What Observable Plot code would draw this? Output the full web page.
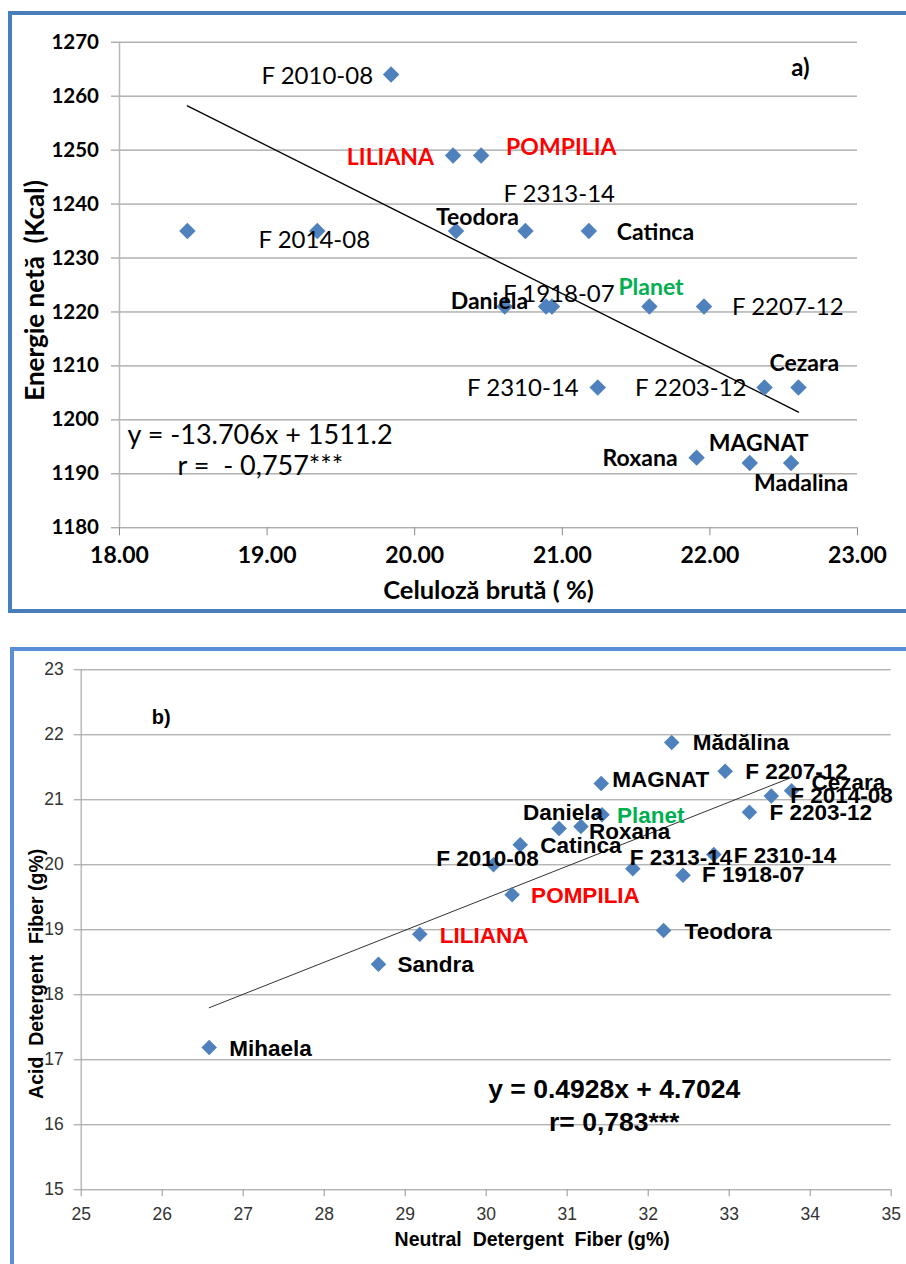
<!DOCTYPE html>
<html><head><meta charset="utf-8">
<script src="https://cdn.jsdelivr.net/npm/d3@7"></script>
<script src="https://cdn.jsdelivr.net/npm/@observablehq/plot@0.6"></script>
<style>
body{margin:0;background:#fff;}
#page{position:relative;width:906px;height:1264px;overflow:hidden;background:#fff;}
.frame{position:absolute;box-sizing:border-box;}
.panel{position:absolute;left:0;}
svg text{white-space:pre;}
</style></head><body>
<div id="page">
  <div class="frame" style="left:8px;top:11px;width:920px;height:602px;border:4px solid #4a7ebb"></div>
  <div class="frame" style="left:10px;top:647px;width:920px;height:660px;border:4px solid #5a8ed6"></div>
  <div id="a" class="panel" style="top:0"></div>
  <div id="b" class="panel" style="top:620px"></div>
</div>
<script>
// ---------- Panel a data ----------
const aNames = ["F 2010-08","","F 2014-08","LILIANA","POMPILIA","Teodora","F 2313-14","Catinca","Daniela","F 1918-07","","Planet","F 2207-12","F 2310-14","F 2203-12","Cezara","Roxana","MAGNAT","Madalina"];
const aCeluloza = [19.84,18.46,19.34,20.26,20.45,20.28,20.75,21.18,20.61,20.89,20.93,21.59,21.96,21.24,22.37,22.60,21.91,22.27,22.55];
const aEnergie = [1264,1235,1235,1249,1249,1235,1235,1235,1221,1221,1221,1221,1221,1206,1206,1206,1193,1192,1192];
const aTicksX = [18,19,20,21,22,23];
const aTicksY = [1180,1190,1200,1210,1220,1230,1240,1250,1260,1270];
const aSlope = -13.706, aIntercept = 1511.2;
const aEquation = "y = -13.706x + 1511.2";
const aR = "r =  - 0,757***";
const aTitleX = "Celuloză brută ( %)";
const aTitleY = "Energie netă  (Kcal)";
const aTag = "a)";

// ---------- Panel b data ----------
const bNames = ["Mihaela","Sandra","LILIANA","F 2010-08","POMPILIA","Catinca","Daniela","Roxana","Planet","MAGNAT","F 2313-14","Teodora","Mădălina","F 1918-07","F 2310-14","F 2207-12","F 2203-12","F 2014-08","Cezara"];
const bNDF = [26.58,28.67,29.18,30.09,30.32,30.42,30.90,31.17,31.43,31.42,31.81,32.19,32.29,32.43,32.81,32.95,33.25,33.52,33.77];
const bADF = [17.19,18.47,18.93,20.00,19.54,20.31,20.56,20.59,20.77,21.25,19.94,18.99,21.88,19.84,20.16,21.44,20.81,21.06,21.14];
const bTicksX = [25,26,27,28,29,30,31,32,33,34,35];
const bTicksY = [15,16,17,18,19,20,21,22,23];
const bSlope = 0.4928, bIntercept = 4.7024;
const bEquation = "y = 0.4928x + 4.7024";
const bR = "r= 0,783***";
const bTitleX = "Neutral  Detergent  Fiber (g%)";
const bTitleY = "Acid  Detergent  Fiber (g%)";
const bTag = "b)";

// ---------- label placement (styling, not data) ----------
const aPlace = [
  ["end",-18,2],[null],["middle",-3,9],["end",-19,2],["start",25,-8],["start",-20,-13],["start",-22,-37],
  ["start",28,2],["start",-54,-5],["start",-43,-12],[null],["start",-31,-19],["start",28,1],
  ["end",-19,1],["end",-18,1],["start",-29,-24],["end",-19,1],["start",-41,-19],["start",-37,21]
];
const bPlace = [
  ["start",20,1],["start",19,1],["start",20,1],["middle",-6,-6],["start",19,1],["start",20,1],
  ["start",-36,-16],["start",8,5],["start",15,1],["start",11,-4],["start",-3,-11],["start",21,1],
  ["start",21,0],["start",19,0],["start",20,1],["start",20,1],["start",20,1],["start",19,0],["start",20,-8]
];
const colorOf = n => (n === "LILIANA" || n === "POMPILIA") ? "#ff0000" : (n === "Planet" ? "#00b050" : "#000");
const isCode = n => /^F \d/.test(n);

const FA = "Lato, 'Liberation Sans', sans-serif";
const FB = "'Liberation Sans', Arial, sans-serif";
const blue = "#4f81bd";
const note = (txt, o) => Plot.text([txt], {textAnchor: "middle", lineAnchor: "middle", ...o});

// ---------- Panel a ----------
const aIdx = d3.range(aNames.length);
const aExt = d3.extent(aCeluloza);
const aLabels = aIdx.filter(i => aNames[i] !== "").map(i => Plot.text([i], {
  x: j => aCeluloza[j], y: j => aEnergie[j], text: j => aNames[j],
  textAnchor: aPlace[i][0], dx: aPlace[i][1], dy: aPlace[i][2],
  fill: colorOf(aNames[i]), fontSize: isCode(aNames[i]) ? 24 : 23, fontFamily: FA,
  fontWeight: isCode(aNames[i]) ? "normal" : "bold"
}));
const plotA = Plot.plot({
  width: 906, height: 620,
  marginLeft: 119, marginRight: 49, marginTop: 41.7, marginBottom: 92.7,
  x: {domain: [18, 23]},
  y: {domain: [1180, 1270]},
  style: {background: "transparent", fontFamily: FA, overflow: "visible"},
  marks: [
    Plot.gridY(aTicksY, {stroke: "#8a8a8a", strokeOpacity: 1, strokeWidth: 1}),
    Plot.ruleX([18], {stroke: "#b8b8b8", strokeWidth: 1.5}),
    Plot.axisY(aTicksY, {tickSize: 8, tickPadding: 12.5, stroke: "#8a8a8a", fill: "#000",
      fontSize: 20.5, fontWeight: "bold", fontFamily: FA, label: null, tickFormat: d => String(d)}),
    Plot.axisX(aTicksX, {tickSize: 8, tickPadding: 11, stroke: "#8a8a8a", fill: "#000",
      fontSize: 23, fontWeight: "bold", fontFamily: FA, label: null, tickFormat: d => d.toFixed(2)}),
    Plot.line(aExt, {x: d => d, y: d => aSlope * d + aIntercept, stroke: "#000", strokeWidth: 1.4}),
    Plot.dot(aIdx, {x: i => aCeluloza[i], y: i => aEnergie[i], symbol: "diamond2", r: 7.4, fill: blue, stroke: "none"}),
    ...aLabels,
    note(aTag, {frameAnchor: "top-right", dx: -57, dy: 26, fontSize: 24, fontWeight: "bold", fontFamily: FA}),
    note(aEquation, {frameAnchor: "bottom-left", textAnchor: "start", dx: 8, dy: -92, fontSize: 27, fontFamily: FA}),
    note(aR, {frameAnchor: "bottom-left", textAnchor: "start", dx: 58, dy: -61.5, fontSize: 27, fontFamily: FA}),
    note(aTitleX, {frameAnchor: "bottom", dy: 63, fontSize: 25.5, fontWeight: "bold", fontFamily: FA}),
    note(aTitleY, {frameAnchor: "left", rotate: -90, dx: -84, dy: 5.5, fontSize: 26, fontWeight: "bold", fontFamily: FA})
  ]
});
document.getElementById("a").appendChild(plotA);

// ---------- Panel b ----------
const bIdx = d3.range(bNames.length);
const bExt = d3.extent(bNDF);
const bLabels = bIdx.map(i => Plot.text([i], {
  x: j => bNDF[j], y: j => bADF[j], text: j => bNames[j],
  textAnchor: bPlace[i][0], dx: bPlace[i][1], dy: bPlace[i][2],
  fill: colorOf(bNames[i]), fontSize: 22.5, fontFamily: FB, fontWeight: "bold"
}));
const plotB = Plot.plot({
  width: 906, height: 644,
  marginLeft: 80.7, marginRight: 15.3, marginTop: 49.3, marginBottom: 74.7,
  x: {domain: [25, 35]},
  y: {domain: [15, 23]},
  style: {background: "transparent", fontFamily: FB, overflow: "visible"},
  marks: [
    Plot.gridY(bTicksY, {stroke: "#969696", strokeOpacity: 1, strokeWidth: 1}),
    Plot.ruleX([25], {stroke: "#a8a8a8", strokeWidth: 1.2}),
    Plot.axisY(bTicksY, {tickSize: 7, tickPadding: 10.5, stroke: "#969696", fill: "#333",
      fontSize: 17.5, fontFamily: FB, label: null, tickFormat: d => String(d)}),
    Plot.axisX(bTicksX, {tickSize: 7, tickPadding: 10.5, stroke: "#969696", fill: "#333",
      fontSize: 17.5, fontFamily: FB, label: null, tickFormat: d => String(d)}),
    Plot.line(bExt, {x: d => d, y: d => bSlope * d + bIntercept, stroke: "#333", strokeWidth: 1}),
    Plot.dot(bIdx, {x: i => bNDF[i], y: i => bADF[i], symbol: "diamond2", r: 7, fill: blue, stroke: "none"}),
    ...bLabels,
    note(bTag, {frameAnchor: "top-left", dx: 80, dy: 47.5, fontSize: 20, fontWeight: "bold", fontFamily: FB}),
    note(bEquation, {frameAnchor: "bottom", dx: 128, dy: -100, fontSize: 26.5, fontWeight: "bold", fontFamily: FB}),
    note(bR, {frameAnchor: "bottom", dx: 128, dy: -67.5, fontSize: 26.5, fontWeight: "bold", fontFamily: FB}),
    note(bTitleX, {frameAnchor: "bottom", dx: 46, dy: 50, fontSize: 19.5, fontWeight: "bold", fontFamily: FB}),
    note(bTitleY, {frameAnchor: "left", rotate: -90, dx: -44, dy: 44, fontSize: 19.5, fontWeight: "bold", fontFamily: FB})
  ]
});
document.getElementById("b").appendChild(plotB);
</script>
</body></html>
